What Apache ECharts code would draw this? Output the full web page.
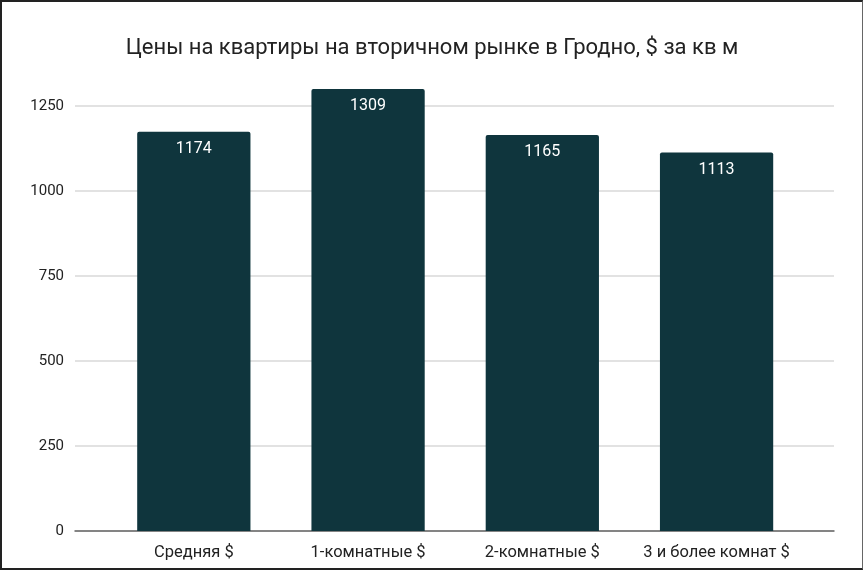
<!DOCTYPE html>
<html>
<head>
  <meta charset="utf-8">
  <title>Цены на квартиры</title>
  <script src="https://cdn.jsdelivr.net/npm/echarts@6/dist/echarts.min.js"></script>
  <style>
    html, body { margin: 0; padding: 0; background: #fff; }
    #main {
      width: 863px; height: 570px; box-sizing: border-box;
      border: 2px solid #222; border-right: 1px solid #666;
    }
  </style>
</head>
<body>
  <div id="main"></div>
  <script type="text/javascript">
    var titleText = 'Цены на квартиры на вторичном рынке в Гродно, $ за кв м';
    var categories = ['Средняя $', '1-комнатные $', '2-комнатные $', '3 и более комнат $'];
    var prices = [1174, 1309, 1165, 1113];
    var yMax = 1300;
    var yStep = 250;

    var myChart = echarts.init(document.getElementById('main'), null, { renderer: 'canvas' });

    var option = {
      animation: false,
      textStyle: { fontFamily: 'Roboto' },
      title: {
        text: titleText,
        left: 'center',
        top: 30,
        textStyle: { fontFamily: 'Roboto', fontSize: 22, fontWeight: 'normal', color: '#222' }
      },
      grid: [
        // wide grid: gridlines, y labels, zero line
        { left: 73, right: 28, top: 87, bottom: 37 },
        // narrow grid: bars and category labels
        { left: 104.7, right: 58.3, top: 87, bottom: 37 }
      ],
      xAxis: [
        {
          gridIndex: 0, type: 'value', min: 0, max: 1,
          axisLine: { show: true, onZero: false, lineStyle: { color: '#666', width: 1.5 } },
          axisTick: { show: false }, axisLabel: { show: false }, splitLine: { show: false }
        },
        {
          gridIndex: 1, type: 'category', data: categories,
          axisLine: { show: false }, axisTick: { show: false },
          axisLabel: { color: '#222', fontSize: 16.5, margin: 13, interval: 0, fontFamily: 'Roboto' }
        }
      ],
      yAxis: [
        {
          gridIndex: 0, type: 'value', min: 0, max: yMax, interval: yStep,
          axisLine: { show: false }, axisTick: { show: false },
          axisLabel: {
            color: '#222', fontSize: 15, margin: 11, showMaxLabel: false,
            formatter: function (v) { return String(v); }
          },
          splitLine: { showMaxLine: false, lineStyle: { color: '#d9d9d9', width: 1.5 } }
        },
        {
          gridIndex: 1, type: 'value', min: 0, max: yMax, interval: yStep,
          axisLine: { show: false }, axisTick: { show: false },
          axisLabel: { show: false }, splitLine: { show: false }
        }
      ],
      series: [{
        type: 'bar',
        xAxisIndex: 1,
        yAxisIndex: 1,
        data: prices,
        barCategoryGap: '35%',
        clip: true,
        itemStyle: { color: '#0f353d', borderRadius: [2, 2, 0, 0] },
        label: {
          show: true,
          position: 'insideTop',
          distance: 9,
          color: '#fff',
          fontSize: 16,
          fontFamily: 'Roboto'
        }
      }]
    };

    myChart.setOption(option);
  </script>
</body>
</html>
